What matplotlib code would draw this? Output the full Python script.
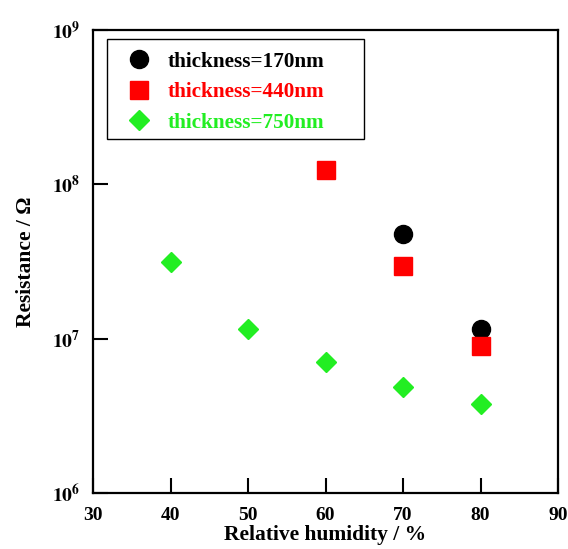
import matplotlib
matplotlib.use("Agg")
import matplotlib.pyplot as plt
from matplotlib.patches import Rectangle

plt.rcParams['font.family'] = ['Liberation Serif', 'DejaVu Serif']
plt.rcParams['font.weight'] = 'bold'
plt.rcParams['mathtext.fontset'] = 'stix'

# resistance vs relative humidity for three film thicknesses
rh_170 = [70, 80]
res_170 = [4.8e7, 1.15e7]
rh_440 = [60, 70, 80]
res_440 = [1.24e8, 2.97e7, 8.97e6]
rh_750 = [40, 50, 60, 70, 80]
res_750 = [3.14e7, 1.15e7, 7.1e6, 4.84e6, 3.76e6]

labels = ['thickness=170nm', 'thickness=440nm', 'thickness=750nm']
colors = ['black', '#ff0000', '#22ee22']

x_ticks = [30, 40, 50, 60, 70, 80, 90]
y_ticks = [1e6, 1e7, 1e8, 1e9]
y_ticklabels = [r'$\mathbf{10^{6}}$', r'$\mathbf{10^{7}}$', r'$\mathbf{10^{8}}$', r'$\mathbf{10^{9}}$']

fig = plt.figure(figsize=(5.68, 5.49), dpi=100)
ax = fig.add_axes([93/568, 1 - 493/549, (558-93)/568, (493-30)/549])

ax.plot(rh_170, res_170, 'o', color=colors[0], ms=13, label=labels[0])
ax.plot(rh_440, res_440, 's', color=colors[1], ms=13, label=labels[1])
ax.plot(rh_750, res_750, 'D', color=colors[2], ms=10, label=labels[2])

ax.set_yscale('log')
ax.set_xlim(30, 90)
ax.set_ylim(1e6, 1e9)
ax.set_xticks(x_ticks)
ax.set_yticks(y_ticks)
ax.set_yticklabels(y_ticklabels, fontsize=16)
ax.minorticks_off()
ax.tick_params(axis='both', direction='in', length=11, width=1.5, labelsize=14, pad=10)
ax.tick_params(axis='y', pad=9)
for s in ax.spines.values():
    s.set_linewidth(1.6)

ax.set_xlabel('Relative humidity / %', fontsize=15.5, fontweight='bold', labelpad=1)
ax.set_ylabel('Resistance / Ω', fontsize=15.5, fontweight='bold', labelpad=12)

# legend frame drawn as a plain box, wider than the entries
ax.add_patch(Rectangle((0.030, 0.765), 0.553, 0.216, transform=ax.transAxes,
                       fill=False, edgecolor='black', linewidth=1.0, zorder=5))
leg = ax.legend(loc='upper left', bbox_to_anchor=(0.030, 0.981), fontsize=15.3,
                frameon=False, borderaxespad=0, borderpad=0.6,
                handlelength=1.85, handletextpad=0.4, labelspacing=0.5)
for t, c in zip(leg.get_texts(), colors):
    t.set_color(c)
    t.set_fontweight('bold')

fig.savefig('out.png', dpi=100)
